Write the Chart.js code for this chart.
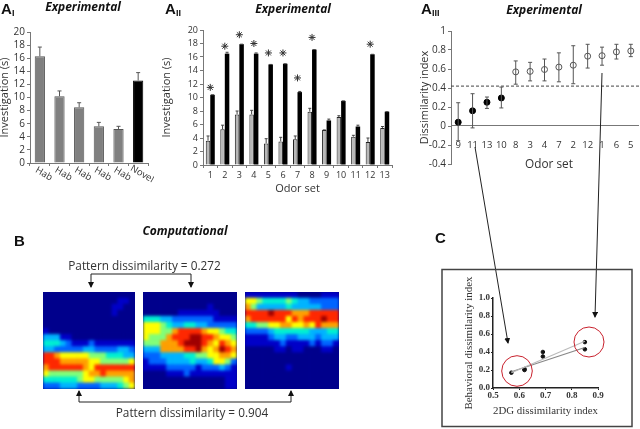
<!DOCTYPE html>
<html>
<head>
<meta charset="utf-8">
<script src="https://cdn.jsdelivr.net/npm/chart.js@4"></script>
<style>
  html, body { margin: 0; padding: 0; background: #fff; }
  #page { position: relative; width: 640px; height: 429px; overflow: hidden; filter: blur(0.35px); }
  canvas { position: absolute; }
  .heat { position: absolute; overflow: hidden; background: #00008c; }
  .heat canvas { left: 0; top: 0; filter: blur(1.6px); }
  svg { position: absolute; left: 0; top: 0; }
  svg text { font-family: "Open Sans", sans-serif; fill: #333; }
  .panel { font-family: "Liberation Sans", sans-serif !important; font-weight: bold; font-size: 15px; fill: #111 !important; }
  .sub { font-family: "Liberation Sans", sans-serif !important; font-weight: bold; font-size: 9px; fill: #111 !important; }
  .head { font-weight: bold; font-style: italic; font-size: 12px; fill: #111 !important; text-anchor: middle; }
  .note { font-size: 11.8px; text-anchor: middle; }
</style>
</head>
<body>
<div id="page">
  <canvas id="habChart"></canvas>
  <canvas id="odorChart"></canvas>
  <canvas id="dissimChart"></canvas>
  <canvas id="dgChart"></canvas>
  <div class="heat" style="left:43px;top:292px;width:92px;height:97px"><canvas id="heat1"></canvas></div>
  <div class="heat" style="left:143px;top:292px;width:94px;height:97px"><canvas id="heat2"></canvas></div>
  <div class="heat" style="left:245px;top:292px;width:94px;height:97px"><canvas id="heat3"></canvas></div>

  <svg width="640" height="429">
    <defs>
      <marker id="tip" markerWidth="6" markerHeight="6" refX="5" refY="3" orient="auto-start-reverse">
        <path d="M0,0 L6,3 L0,6 Z" fill="#111"></path>
      </marker>
    </defs>

    <text class="panel" x="1" y="14">A</text><text class="sub" x="12" y="16">I</text>
    <text class="panel" x="165" y="14">A</text><text class="sub" x="176" y="16">II</text>
    <text class="panel" x="421" y="14">A</text><text class="sub" x="432" y="16">III</text>
    <text class="panel" x="14" y="246">B</text>
    <text class="panel" x="435" y="243">C</text>

    <text class="head" x="83" y="11">Experimental</text>
    <text class="head" x="293" y="13">Experimental</text>
    <text class="head" x="544" y="14">Experimental</text>
    <text class="head" x="185" y="235">Computational</text>

    <text class="note" x="549" y="168">Odor set</text>

    <text class="note" x="144.5" y="270">Pattern dissimilarity =  0.272</text>
    <text class="note" x="192" y="417">Pattern dissimilarity = 0.904</text>

    <g fill="none" stroke="#222" stroke-width="1">
      <path d="M91,287 V274 H191 V287" marker-start="url(#tip)" marker-end="url(#tip)"></path>
      <path d="M79,391 V402 H291 V391" marker-start="url(#tip)" marker-end="url(#tip)"></path>
      <path d="M475,147 L508,343" marker-end="url(#tip)"></path>
      <path d="M602,73 L595,317" marker-end="url(#tip)"></path>
    </g>

    <rect x="442" y="269.5" width="190" height="157" fill="none" stroke="#444" stroke-width="1.5"></rect>
    <circle cx="517" cy="371" r="15.3" fill="none" stroke="#c8202c" stroke-width="1"></circle>
    <circle cx="589" cy="342" r="15" fill="none" stroke="#c8202c" stroke-width="1"></circle>
  </svg>
</div>

<script>
// === Data ===
const habLabels = ['Hab', 'Hab', 'Hab', 'Hab', 'Hab', 'Novel'];
const habValues = [16.3, 10.2, 8.5, 5.6, 5.2, 12.6];
const habUpper = [17.7, 11, 9.2, 6.2, 5.6, 13.8];

const odorSets = ['1', '2', '3', '4', '5', '6', '7', '8', '9', '10', '11', '12', '13'];
const odorHab = [3.6, 5.3, 7.5, 7.5, 3.2, 3.5, 3.8, 7.9, 5.2, 7.1, 4.2, 3.4, 5.5];
const odorHabUpper = [4.3, 5.9, 8, 8.1, 3.9, 4.1, 4.3, 8.4, 5.2, 7.3, 4.4, 4, 5.7];
const odorNovel = [10.4, 16.5, 17.9, 16.5, 14.9, 15, 10.8, 17.1, 6.6, 9.5, 5.7, 16.4, 7.9];
const odorNovelUpper = [10.4, 16.7, 17.9, 16.6, 14.9, 15, 10.9, 17.1, 6.8, 9.5, 5.9, 16.4, 7.9];
const odorStars = [11.5, 17.6, 19.3, 18, 16.6, 16.6, 12.9, 18.9, null, null, null, 17.9, null];

const dissimSets = ['9', '11', '13', '10', '8', '3', '4', '7', '2', '12', '1', '6', '5'];
const dissimMean = [0.04, 0.16, 0.25, 0.295, 0.57, 0.575, 0.595, 0.62, 0.64, 0.735, 0.74, 0.78, 0.79];
const dissimHigh = [0.245, 0.34, 0.305, 0.41, 0.685, 0.67, 0.705, 0.77, 0.845, 0.86, 0.83, 0.86, 0.86];
const dissimLow = [-0.155, -0.02, 0.185, 0.19, 0.44, 0.475, 0.475, 0.465, 0.445, 0.61, 0.64, 0.705, 0.73];
const dissimFilled = [true, true, true, true, false, false, false, false, false, false, false, false, false];
const dissimCutoff = 0.42;

const dgPoints = [[0.57, 0.17], [0.62, 0.2], [0.62, 0.21], [0.69, 0.35], [0.69, 0.4], [0.85, 0.43], [0.85, 0.51]];
const dgFitUpper = [[0.57, 0.17], [0.85, 0.52]];
const dgFitLower = [[0.57, 0.18], [0.85, 0.45]];

// activity levels 0-9, top row first
const heatRows1 = [
  '0000000000000000', '0000000000000110', '0000000000001100', '0000000000001000',
  '0000000000000000', '0000000000000000', '1000000000000000', '3331100000000000',
  '4443211121111111', '3322222332222332', '8876666655544433', '8887777766555556',
  '7888888768888888', '6555555677877777', '4444445665555567', '2223332222333456'
];
const heatRows2 = [
  '0000000000000000', '0000000000000000', '0000000000010000', '0000001111111000',
  '4443322222221111', '6665433443322222', '6665578888766544', '6555788899887665',
  '5557778999876876', '3337777889767987', '2223333445566776', '1222333343346652',
  '1111222221222321', '0000111211111111', '0000000000000011', '0000000000000011'
];
const heatRows3 = [
  '1111111110000111', '6654444543322222', '7533333433333222', '8888988877788888',
  '7888888687888988', '4455667766768777', '2222344444433344', '1111233223332333',
  '1111112111121221', '0000011011000110', '0000000000000000', '0000000000000000',
  '0000000100000000', '0000000000000000', '0000000000000000', '0000000000000000'
];
const jetLevels = ['#00008c', '#0000c8', '#0064ff', '#00b4ff', '#00f0d2', '#82ff78', '#ffff00', '#ffa000', '#ff2800', '#a00000'];

// === Helpers ===
const axisGrey = '#777';
const textGrey = '#333';
const sans = 'Open Sans';

// puts a canvas so that the plot area lands on the given page rectangle
function place(id, plot, leftRoom, bottomRoom, topRoom) {
  const c = document.getElementById(id);
  c.width = plot.r - plot.l + leftRoom + 6;
  c.height = plot.b - plot.t + bottomRoom + topRoom;
  c.style.left = (plot.l - leftRoom) + 'px';
  c.style.top = (plot.t - topRoom) + 'px';
  return c;
}

const errorBars = {
  id: 'errorBars',
  afterDatasetsDraw(chart, args, opts) {
    const { ctx, scales } = chart;
    ctx.save();
    ctx.strokeStyle = opts.color;
    ctx.lineWidth = 1;
    opts.sets.forEach(set => {
      chart.getDatasetMeta(set.index).data.forEach((el, i) => {
        const x = el.x;
        const hi = scales.y.getPixelForValue(set.high[i]);
        const lo = scales.y.getPixelForValue(set.low ? set.low[i] : set.base[i]);
        ctx.beginPath();
        ctx.moveTo(x, lo); ctx.lineTo(x, hi);
        ctx.moveTo(x - opts.cap, hi); ctx.lineTo(x + opts.cap, hi);
        if (set.low) { ctx.moveTo(x - opts.cap, lo); ctx.lineTo(x + opts.cap, lo); }
        ctx.stroke();
      });
    });
    ctx.restore();
  }
};

// Hab labels lean downward, the scale only rotates them the other way
const slantLabels = {
  id: 'slantLabels',
  afterDraw(chart) {
    const { ctx, scales: { x } } = chart;
    ctx.save();
    ctx.fillStyle = textGrey;
    ctx.font = '9.5px "' + sans + '"';
    ctx.textAlign = 'center';
    ctx.textBaseline = 'middle';
    habLabels.forEach((label, i) => {
      ctx.save();
      ctx.translate(x.getPixelForTick(i) + 4, x.top + 11);
      ctx.rotate(Math.PI / 6);
      ctx.fillText(label, 0, 0);
      ctx.restore();
    });
    ctx.restore();
  }
};

const cutoffLine = {
  id: 'cutoffLine',
  beforeDatasetsDraw(chart) {
    const { ctx, chartArea, scales: { y } } = chart;
    const py = y.getPixelForValue(dissimCutoff);
    ctx.save();
    ctx.strokeStyle = '#444';
    ctx.setLineDash([3, 2]);
    ctx.beginPath();
    ctx.moveTo(chartArea.left, py);
    ctx.lineTo(chartArea.right + 6, py);
    ctx.stroke();
    ctx.restore();
  }
};

function tickFont(size) { return { family: sans, size: size }; }

function linearY(min, max, step, room, title) {
  return {
    min: min, max: max,
    afterFit: s => { s.width = room; },
    border: { color: axisGrey },
    grid: { drawOnChartArea: false, tickLength: 3, color: axisGrey },
    ticks: { stepSize: step, autoSkip: false, padding: 2, color: textGrey, font: tickFont(10) },
    title: { display: true, text: title, color: textGrey, font: tickFont(11), padding: 0 }
  };
}

// === Panel A-i ===
new Chart(place('habChart', { l: 30, t: 32, r: 148, b: 163 }, 32, 22, 8), {
  type: 'bar',
  data: {
    labels: habLabels,
    datasets: [{
      data: habValues,
      backgroundColor: ['#808080', '#808080', '#808080', '#808080', '#808080', '#000'],
      borderColor: ['#555', '#555', '#555', '#555', '#555', '#000'],
      borderWidth: 1,
      categoryPercentage: 0.52,
      barPercentage: 1
    }]
  },
  options: {
    responsive: false,
    animation: false,
    layout: { padding: { top: 8, right: 6 } },
    plugins: {
      legend: { display: false },
      errorBars: { color: '#555', cap: 2, sets: [{ index: 0, high: habUpper, base: habValues }] }
    },
    scales: {
      x: {
        afterFit: s => { s.height = 22; },
        border: { color: axisGrey },
        grid: { drawOnChartArea: false, tickLength: 3, color: axisGrey },
        ticks: { display: false }
      },
      y: linearY(0, 20, 2, 32, 'Investigation (s)')
    }
  },
  plugins: [errorBars, slantLabels]
});

// === Panel A-ii ===
const odorY = linearY(0, 20, 2, 43, 'Investigation (s)');
odorY.ticks.font = tickFont(9);
odorY.title.padding = { top: 0, bottom: 8 };
new Chart(place('odorChart', { l: 203, t: 30, r: 392, b: 165 }, 43, 30, 8), {
  type: 'bar',
  data: {
    labels: odorSets,
    datasets: [
      {
        data: odorHab,
        backgroundColor: '#b8b8b8',
        borderColor: '#222',
        borderWidth: 1,
        categoryPercentage: 0.62,
        barPercentage: 1
      },
      {
        data: odorNovel,
        backgroundColor: '#000',
        categoryPercentage: 0.62,
        barPercentage: 1
      },
      {
        type: 'line',
        data: odorStars,
        showLine: false,
        pointStyle: 'star',
        pointRadius: 3.5,
        pointBorderColor: '#333',
        pointBorderWidth: 1
      }
    ]
  },
  options: {
    responsive: false,
    animation: false,
    layout: { padding: { top: 8, right: 6 } },
    plugins: {
      legend: { display: false },
      errorBars: {
        color: '#444',
        cap: 1.5,
        sets: [
          { index: 0, high: odorHabUpper, base: odorHab },
          { index: 1, high: odorNovelUpper, base: odorNovel }
        ]
      }
    },
    scales: {
      x: {
        afterFit: s => { s.height = 30; },
        border: { color: axisGrey },
        grid: { drawOnChartArea: false, tickLength: 3, color: axisGrey },
        ticks: { padding: 2, color: textGrey, font: tickFont(9), maxRotation: 0, autoSkip: false },
        title: { display: true, text: 'Odor set', color: textGrey, font: tickFont(11), padding: { top: 2, bottom: 0 } }
      },
      y: odorY
    }
  },
  plugins: [errorBars]
});

// === Panel A-iii ===
const dissimY = linearY(-0.4, 1, 0.2, 33, 'Dissimilarity index');
dissimY.ticks.callback = v => String(+v.toFixed(1));
new Chart(place('dissimChart', { l: 450.5, t: 31, r: 637, b: 168 }, 33, 4, 8), {
  type: 'line',
  data: {
    labels: dissimSets,
    datasets: [{
      data: dissimMean,
      showLine: false,
      pointRadius: 3,
      pointBorderWidth: 1,
      pointBorderColor: dissimFilled.map(f => f ? '#000' : '#555'),
      pointBackgroundColor: dissimFilled.map(f => f ? '#000' : '#fff')
    }]
  },
  options: {
    responsive: false,
    animation: false,
    layout: { padding: { top: 8, right: 3 } },
    plugins: {
      legend: { display: false },
      errorBars: { color: '#555', cap: 2, sets: [{ index: 0, high: dissimHigh, low: dissimLow }] }
    },
    scales: {
      x: {
        type: 'category',
        offset: true,
        position: { y: 0 },
        afterFit: s => { s.height = 4; },
        border: { color: axisGrey },
        grid: { display: false },
        ticks: { padding: 6, color: textGrey, font: tickFont(9.5), maxRotation: 0, autoSkip: false }
      },
      y: dissimY
    }
  },
  plugins: [errorBars, cutoffLine]
});

// === Panel B heat maps ===
function drawHeat(id, rows, w, h) {
  const c = document.getElementById(id);
  c.width = w;
  c.height = h;
  const bottomFirst = rows.slice().reverse();
  new Chart(c, {
    type: 'bar',
    data: {
      labels: rows[0].split(''),
      datasets: bottomFirst.map(row => ({
        data: row.split('').map(() => 1),
        backgroundColor: row.split('').map(d => jetLevels[+d]),
        borderWidth: 0,
        categoryPercentage: 1,
        barPercentage: 1
      }))
    },
    options: {
      responsive: false,
      animation: false,
      plugins: { legend: { display: false }, tooltip: { enabled: false } },
      scales: {
        x: { stacked: true, display: false },
        y: { stacked: true, display: false, min: 0, max: rows.length }
      }
    }
  });
}
drawHeat('heat1', heatRows1, 92, 97);
drawHeat('heat2', heatRows2, 94, 97);
drawHeat('heat3', heatRows3, 94, 97);

// === Panel C ===
const toXY = pts => pts.map(p => ({ x: p[0], y: p[1] }));
const dgFont = { family: 'Liberation Serif', size: 9, weight: 'bold' };
new Chart(place('dgChart', { l: 493.3, t: 297.7, r: 599, b: 388.3 }, 30, 30, 24), {
  type: 'scatter',
  data: {
    datasets: [
      { data: toXY(dgFitUpper), showLine: true, borderColor: '#bbb', borderWidth: 1.2, pointRadius: 0 },
      { data: toXY(dgFitLower), showLine: true, borderColor: '#888', borderWidth: 1.2, pointRadius: 0 },
      { data: toXY(dgPoints), pointRadius: 1.8, backgroundColor: '#111', borderColor: '#111' }
    ]
  },
  options: {
    responsive: false,
    animation: false,
    layout: { padding: { top: 24, right: 6 } },
    plugins: { legend: { display: false } },
    scales: {
      x: {
        min: 0.5, max: 0.9,
        afterFit: s => { s.height = 30; },
        border: { color: '#222', width: 1.5 },
        grid: { drawOnChartArea: false, tickLength: 2, color: '#222' },
        ticks: { stepSize: 0.1, padding: 0, color: '#333', font: dgFont, maxRotation: 0 },
        title: { display: true, text: '2DG dissimilarity index', color: '#333', font: { family: 'Liberation Serif', size: 11 }, padding: { top: 2, bottom: 0 } }
      },
      y: {
        min: 0, max: 1,
        afterFit: s => { s.width = 30; },
        border: { color: '#222', width: 1.5 },
        grid: { drawOnChartArea: false, tickLength: 2, color: '#222' },
        ticks: { stepSize: 0.2, padding: 1, color: '#333', font: dgFont, callback: v => v.toFixed(1) },
        title: { display: true, text: 'Behavioral dissimilarity index', color: '#333', font: { family: 'Liberation Serif', size: 11 }, padding: 0 }
      }
    }
  }
});
</script>
</body>
</html>
